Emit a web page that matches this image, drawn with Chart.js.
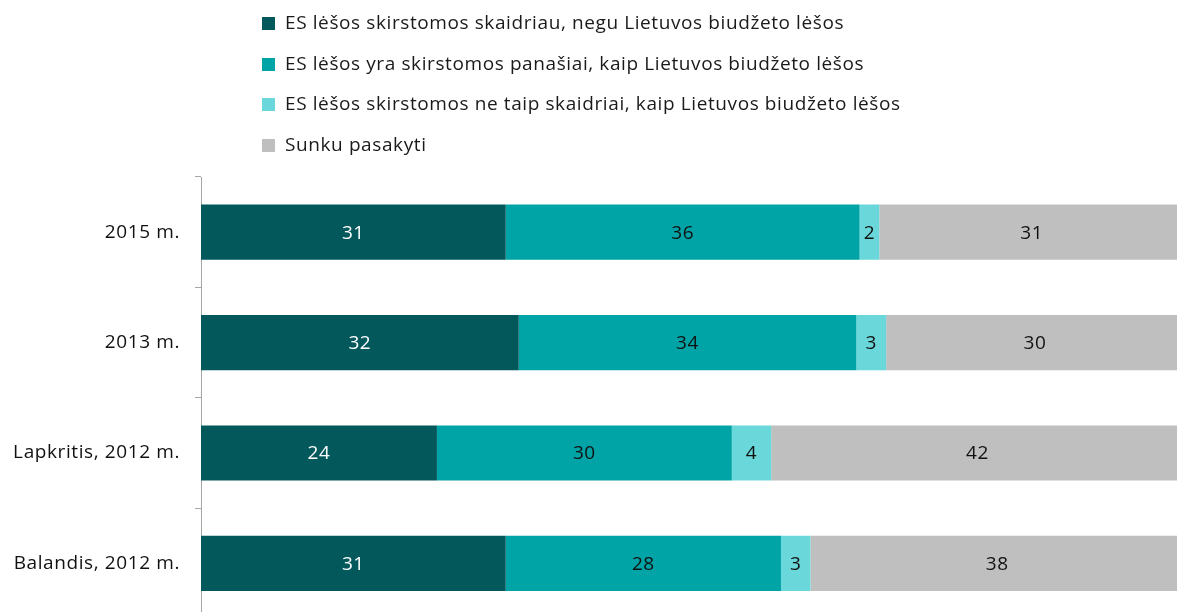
<!DOCTYPE html>
<html>
<head>
<meta charset="utf-8">
<script src="https://cdn.jsdelivr.net/npm/chart.js@4.4.1/dist/chart.umd.min.js"></script>
<style>
  html, body { margin: 0; padding: 0; background: #fff; overflow: hidden; }
  #wrap { position: relative; width: 1177px; height: 612px; overflow: hidden; }
  #box { position: absolute; left: 0; top: 0; width: 1190px; height: 645px; }
  #legend { position: absolute; left: 262px; top: 0; font-family: "Open Sans", sans-serif; font-size: 19px; letter-spacing: 0.6px; color: #1a1a1a; }
  #legend div { height: 40.5px; line-height: 40.5px; white-space: nowrap; position: relative; top: 2px; }
  #legend span.sw { display: inline-block; width: 13px; height: 13px; margin-right: 10px; vertical-align: -1px; }
</style>
</head>
<body>
<div id="wrap">
  <div id="box"><canvas id="chart" width="1190" height="645"></canvas></div>
  <div id="legend"></div>
</div>
<script>
const categories = ['2015 m.', '2013 m.', 'Lapkritis, 2012 m.', 'Balandis, 2012 m.'];
const seriesNames = [
  'ES lėšos skirstomos skaidriau, negu Lietuvos biudžeto lėšos',
  'ES lėšos yra skirstomos panašiai, kaip Lietuvos biudžeto lėšos',
  'ES lėšos skirstomos ne taip skaidriai, kaip Lietuvos biudžeto lėšos',
  'Sunku pasakyti'
];
const moreTransparent = [31, 32, 24, 31];
const similar = [36, 34, 30, 28];
const lessTransparent = [2, 3, 4, 3];
const hardToSay = [31, 30, 42, 38];
const colors = ['#02585B', '#00A4A6', '#6AD7DA', '#BFBFBF'];
const labelColors = ['#ffffff', '#111111', '#111111', '#111111'];

document.addEventListener('DOMContentLoaded', function () {
  // legend in HTML, stacked vertically like the original
  const legend = document.getElementById('legend');
  seriesNames.forEach(function (name, i) {
    const row = document.createElement('div');
    row.innerHTML = '<span class="sw" style="background:' + colors[i] + '"></span>' + name;
    legend.appendChild(row);
  });

  const allSeries = [moreTransparent, similar, lessTransparent, hardToSay];
  // 100% stacked: each row is scaled to its own total
  const totals = categories.map(function (c, j) {
    return allSeries.reduce(function (s, d) { return s + d[j]; }, 0);
  });

  // slightly wider text, closer to the original's font
  const spacing = {
    id: 'spacing',
    beforeDraw(chart) { chart.ctx.letterSpacing = '0.6px'; }
  };

  const valueLabels = {
    id: 'valueLabels',
    afterDatasetsDraw(chart) {
      const ctx = chart.ctx;
      ctx.save();
      ctx.font = '19px "Open Sans", sans-serif';
      ctx.textAlign = 'center';
      ctx.textBaseline = 'middle';
      chart.data.datasets.forEach(function (ds, i) {
        chart.getDatasetMeta(i).data.forEach(function (bar, j) {
          ctx.fillStyle = labelColors[i];
          ctx.fillText(String(allSeries[i][j]), (bar.x + bar.base) / 2, bar.y + 1);
        });
      });
      ctx.restore();
    }
  };

  new Chart(document.getElementById('chart'), {
    type: 'bar',
    data: {
      labels: categories,
      datasets: allSeries.map(function (d, i) {
        return {
          label: seriesNames[i],
          data: d.map(function (v, j) { return v / totals[j] * 100; }),
          backgroundColor: colors[i],
          borderWidth: 0,
          barPercentage: 0.5,
          categoryPercentage: 1.0
        };
      })
    },
    options: {
      indexAxis: 'y',
      responsive: false,
      animation: false,
      layout: { padding: { top: 177, bottom: 8, left: 0, right: 6 } },
      plugins: { legend: { display: false }, tooltip: { enabled: false } },
      scales: {
        x: { stacked: true, min: 0, max: 100, display: false },
        y: {
          stacked: true,
          afterFit: function (scale) { scale.width = 201; },
          border: { color: '#A6A6A6', width: 1 },
          grid: { drawOnChartArea: false, offset: true, tickLength: 6, color: '#A6A6A6' },
          ticks: { color: '#111111', padding: 15, font: { family: '"Open Sans", sans-serif', size: 19 } }
        }
      }
    },
    plugins: [spacing, valueLabels]
  });
});
</script>
</body>
</html>
